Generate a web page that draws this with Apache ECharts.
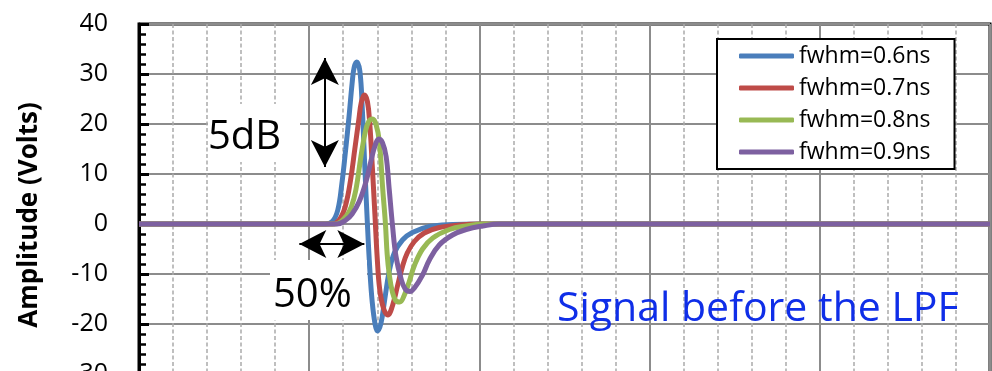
<!DOCTYPE html>
<html>
<head>
<meta charset="utf-8">
<script src="https://cdn.jsdelivr.net/npm/echarts@6/dist/echarts.min.js"></script>
<style>html,body{margin:0;padding:0;background:#fff;}#c{width:992px;height:371px;}</style>
</head>
<body>
<div id="c"></div>
<script>
// ---- data (time in grid units, amplitude in Volts) ----
var seriesNames = ['fwhm=0.6ns', 'fwhm=0.7ns', 'fwhm=0.8ns', 'fwhm=0.9ns'];
var blueT = [0, 5.47, 5.68, 5.84, 5.96, 6.07, 6.17, 6.26, 6.32, 6.40, 6.49, 6.56, 6.63, 6.71, 6.78, 6.85, 6.94, 7.01, 7.11, 7.21, 7.35, 7.50, 7.74, 8.03, 8.53, 9.21, 10, 25];
var blueV = [0, 0, 0.5, 2.8, 8.1, 14.8, 21.5, 28.1, 31.3, 32.4, 30.5, 23, 12, 0, -9, -15.5, -20.2, -21.4, -19.8, -15.5, -9.5, -5.8, -3.2, -1.7, -0.5, -0.1, 0, 0];
var redT = [0, 5.68, 5.88, 6.06, 6.22, 6.34, 6.46, 6.53, 6.62, 6.71, 6.78, 6.85, 6.93, 7.00, 7.07, 7.18, 7.31, 7.44, 7.59, 7.74, 7.88, 8.09, 8.38, 8.82, 9.41, 10, 25];
var redV = [0, 0, 0.8, 3.5, 9, 15, 21, 24.3, 25.8, 24.5, 20, 12, 2, -7, -13, -16.8, -18.2, -16.5, -12.5, -8.5, -5.8, -3.5, -1.8, -0.7, -0.2, 0, 0];
var greenT = [0, 5.76, 6.08, 6.24, 6.37, 6.52, 6.65, 6.75, 6.86, 6.96, 7.06, 7.16, 7.24, 7.29, 7.35, 7.44, 7.54, 7.66, 7.79, 7.94, 8.09, 8.33, 8.63, 9.12, 9.61, 10.15, 25];
var greenV = [0, 0, 1.5, 3.5, 6.8, 13.5, 18.5, 20.5, 21, 20, 16.5, 7, 0, -6, -10, -13.5, -15.3, -15.6, -14.3, -11.5, -8.3, -5, -2.8, -1.1, -0.4, 0, 0];
var purpleT = [0, 5.82, 6.08, 6.26, 6.47, 6.67, 6.81, 6.94, 7.04, 7.15, 7.26, 7.35, 7.45, 7.55, 7.70, 7.82, 7.96, 8.09, 8.33, 8.53, 8.82, 9.21, 9.61, 10.1, 10.59, 25];
var purpleV = [0, 0, 0.8, 2, 4.5, 8.5, 12.5, 15.8, 17, 16.3, 13.5, 7, -0.5, -6.5, -11, -13, -13.5, -12.8, -10.2, -7.2, -4.2, -2.2, -1.1, -0.4, 0, 0];
var yTicks = [-30, -20, -10, 0, 10, 20, 30, 40];
// annotation arrows (data coordinates)
var ampArrow = [[5.46, 33.2], [5.46, 11.4]];
var widthArrow = [[4.71, -4], [6.62, -4]];

function pairs(t, v) { return t.map(function (x, i) { return [x, v[i]]; }); }

var colors = ['#4A7EBB', '#BE4B48', '#98B954', '#7D60A0'];
var allT = [blueT, redT, greenT, purpleT];
var allV = [blueV, redV, greenV, purpleV];
var FONT = '"Open Sans", "Noto Sans", sans-serif';

var series = seriesNames.map(function (name, i) {
  var s = {
    name: name,
    type: 'line',
    data: pairs(allT[i], allV[i]),
    smooth: 0.4,
    showSymbol: false,
    symbol: 'none',
    lineStyle: { color: colors[i], width: 5 },
    itemStyle: { color: colors[i] },
    z: 3,
    animation: false
  };
  if (i === 3) {
    s.markLine = {
      silent: true,
      animation: false,
      symbol: ['arrow', 'arrow'],
      symbolSize: [21, 27],
      lineStyle: { color: '#000', width: 2, type: 'solid' },
      label: { show: false },
      emphasis: { disabled: true },
      data: [
        [{ coord: ampArrow[0] }, { coord: ampArrow[1] }],
        [{ coord: widthArrow[0] }, { coord: widthArrow[1] }]
      ]
    };
  }
  return s;
});

var chart = echarts.init(document.getElementById('c'), null, { renderer: 'canvas' });
chart.setOption({
  animation: false,
  backgroundColor: '#fff',
  grid: { left: 139, top: 24, width: 851, height: 350, show: true, borderColor: '#000', borderWidth: 3, backgroundColor: 'transparent', containLabel: false, outerBoundsMode: 'none' },
  xAxis: {
    type: 'value', min: 0, max: 25, interval: 5,
    axisLine: { show: false },
    axisTick: { show: false },
    axisLabel: { show: false },
    splitLine: { show: true, lineStyle: { color: '#8c8c8c', width: 2 } },
    minorTick: { show: false, splitNumber: 5 },
    minorSplitLine: { show: true, lineStyle: { color: '#ababab', width: 1.5, type: [4, 2.5] } }
  },
  yAxis: {
    type: 'value', min: yTicks[0], max: yTicks[yTicks.length - 1], interval: 10,
    axisLine: { show: true, onZero: false, lineStyle: { color: '#000', width: 3 } },
    axisTick: { show: true, inside: true, length: 10, lineStyle: { color: '#000', width: 3 } },
    minorTick: { show: true, splitNumber: 5, length: 7, lineStyle: { color: '#000', width: 2.5 } },
    axisLabel: { show: true, margin: 31, color: '#000', fontSize: 25, fontFamily: FONT },
    splitLine: { show: true, lineStyle: { color: '#8c8c8c', width: 2 } }
  },
  legend: {
    show: true,
    data: seriesNames,
    orient: 'vertical',
    left: 717, top: 39,
    padding: [5, 24, 5, 22],
    itemGap: 8,
    itemWidth: 55, itemHeight: 5,
    itemTextGap: 3,
    icon: 'roundRect',
    backgroundColor: '#fff',
    borderColor: '#000', borderWidth: 2,
    textStyle: { fontSize: 23, fontFamily: FONT, color: '#000', lineHeight: 24 },
    selectedMode: false
  },
  graphic: [
    { type: 'rect', z: 10, shape: { x: 208, y: 104, width: 92, height: 58 }, style: { fill: '#fff' } },
    { type: 'rect', z: 10, shape: { x: 270, y: 260, width: 97, height: 60 }, style: { fill: '#fff' } },
    { type: 'text', z: 11, x: 208, y: 137.5, style: { text: '5dB', fill: '#000', font: '40px ' + FONT, textAlign: 'left', textVerticalAlign: 'middle', align: 'left', verticalAlign: 'middle' } },
    { type: 'text', z: 11, x: 273, y: 295.5, style: { text: '50%', fill: '#000', font: '40px ' + FONT, textAlign: 'left', textVerticalAlign: 'middle', align: 'left', verticalAlign: 'middle' } },
    { type: 'text', z: 11, x: 557, y: 309, style: { text: 'Signal before the LPF', fill: '#0F2EE8', font: '41px ' + FONT, textAlign: 'left', textVerticalAlign: 'middle', align: 'left', verticalAlign: 'middle' } },
    { type: 'text', z: 11, x: 30, y: 215, rotation: Math.PI / 2, style: { text: 'Amplitude (Volts)', fill: '#000', font: 'bold 26px ' + FONT, textAlign: 'center', textVerticalAlign: 'middle', align: 'center', verticalAlign: 'middle' } }
  ],
  series: series
});
</script>
</body>
</html>
